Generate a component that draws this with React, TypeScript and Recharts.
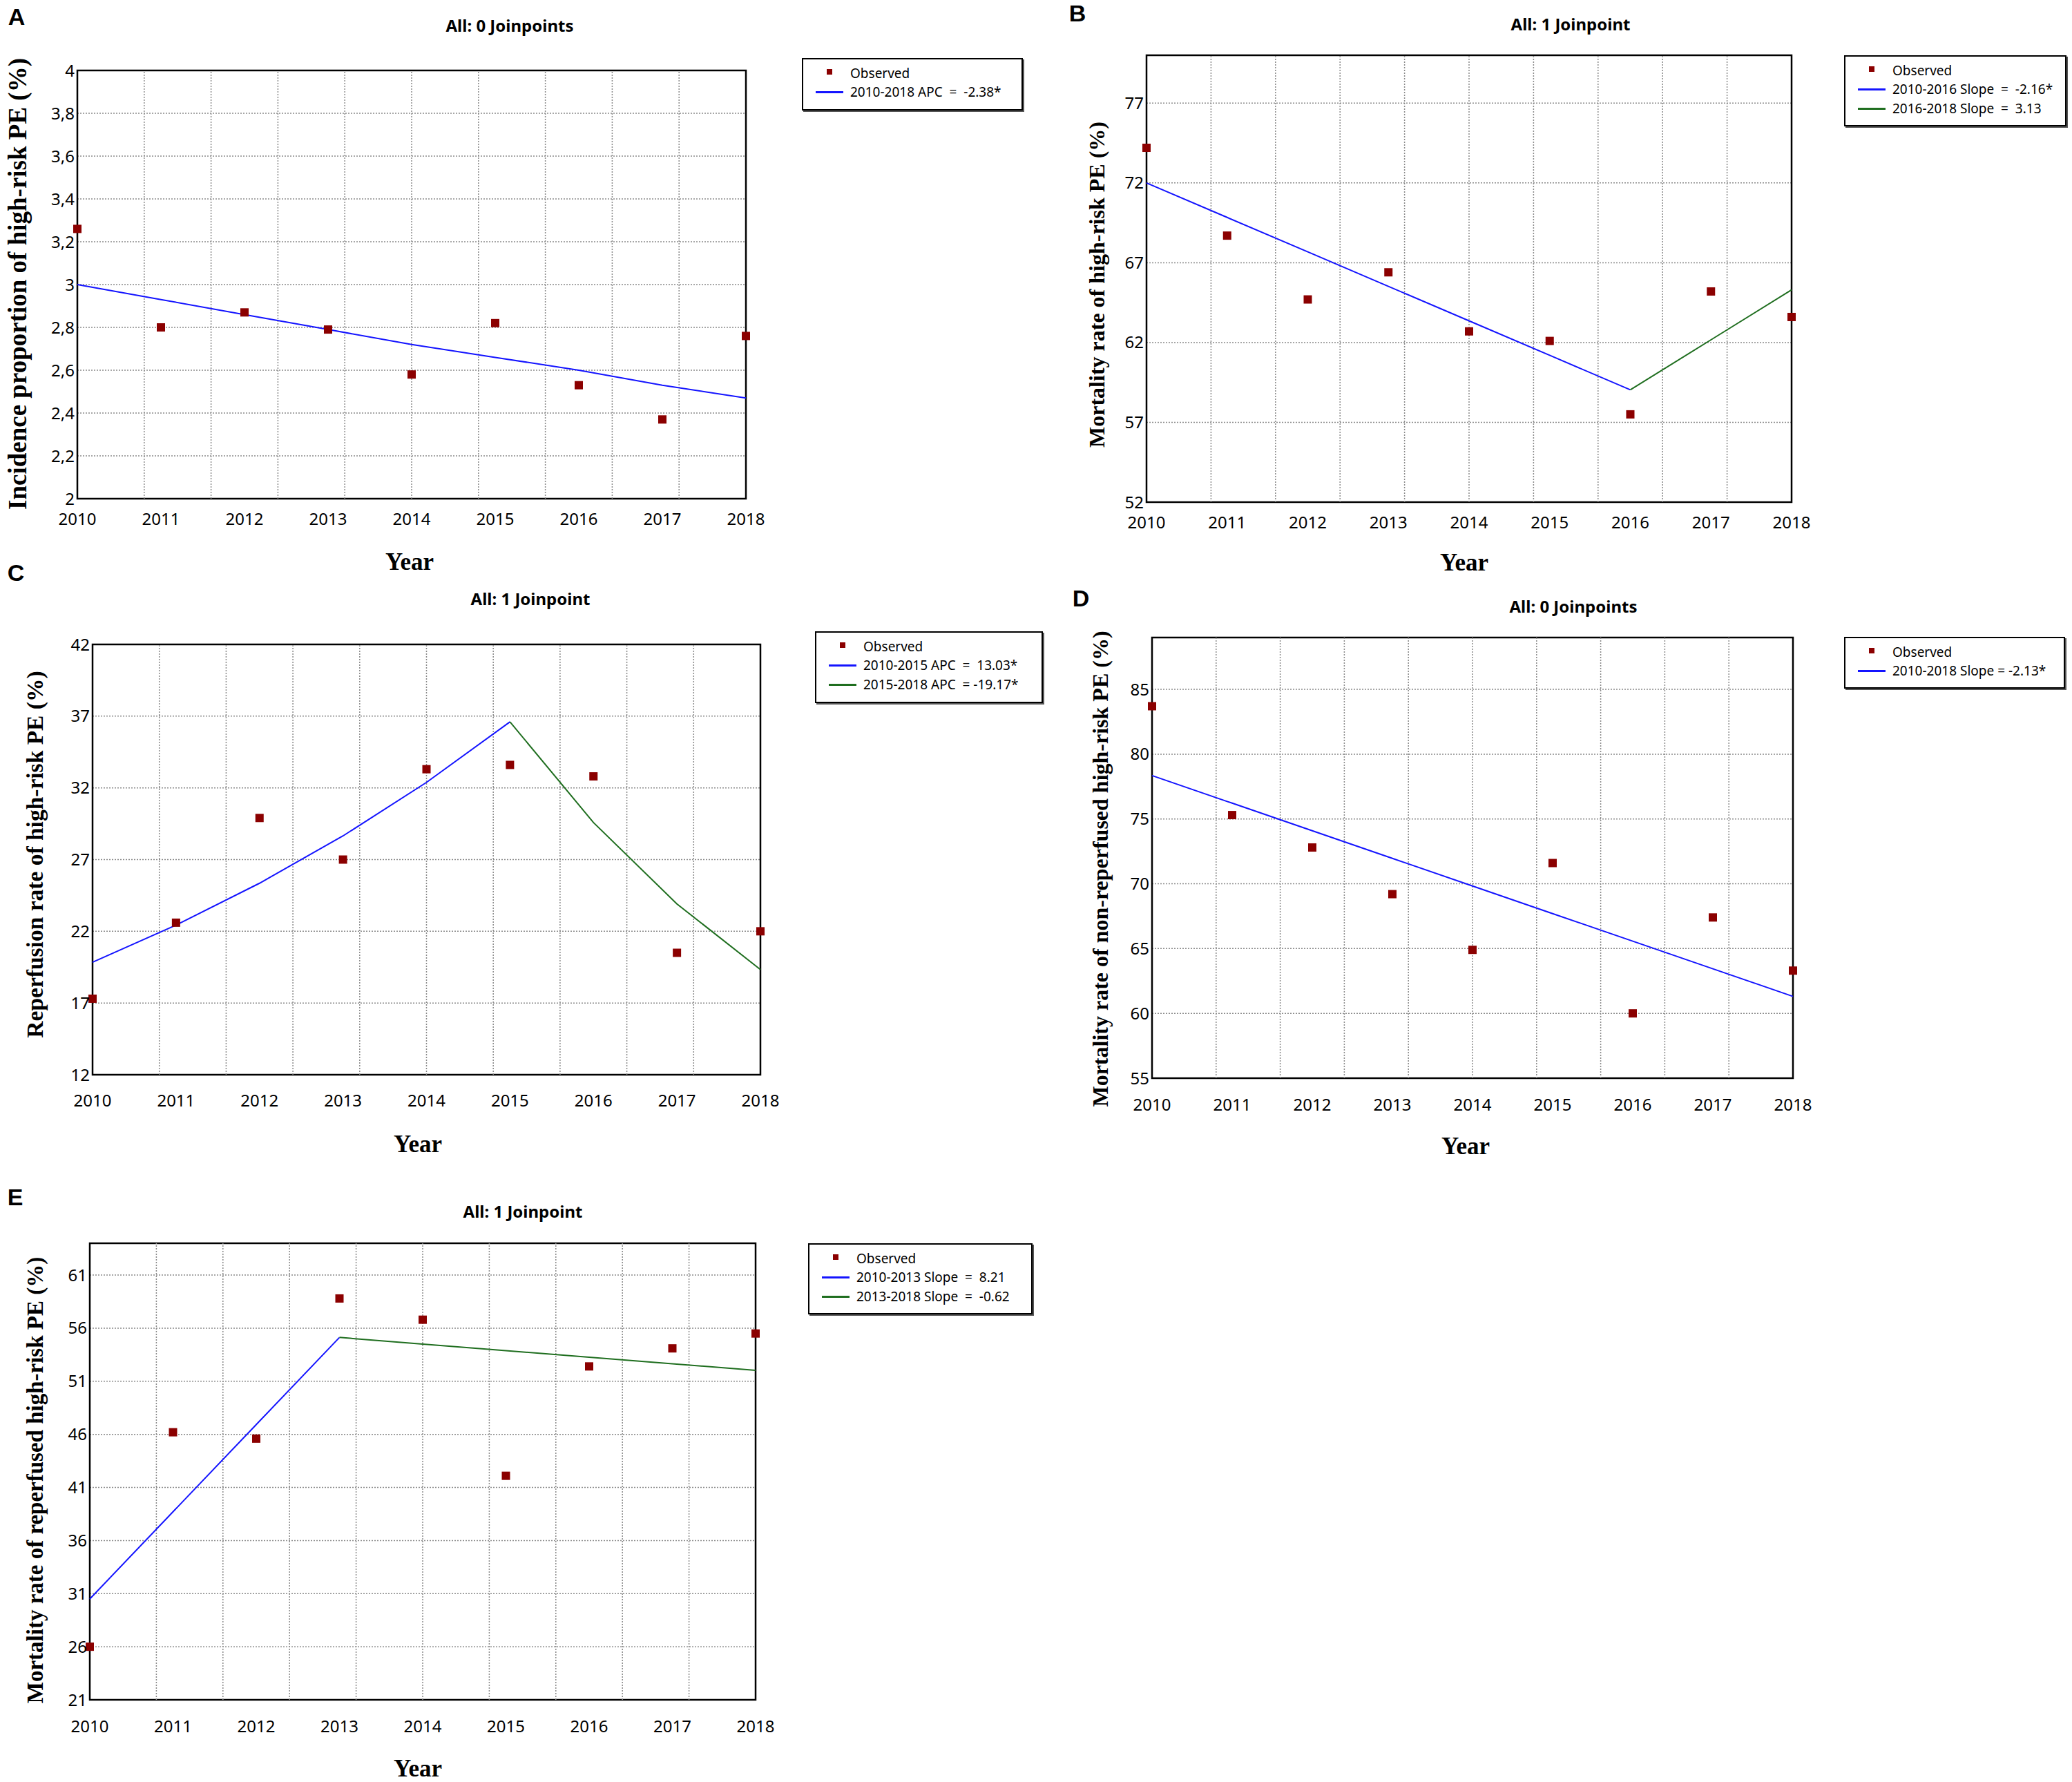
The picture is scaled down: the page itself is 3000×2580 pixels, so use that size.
import React from "react";
import {
  CartesianGrid,
  ComposedChart,
  Line,
  ReferenceArea,
  ReferenceLine,
  Scatter,
  XAxis,
  YAxis,
} from "recharts";

// shared x categories
const years = [2010, 2011, 2012, 2013, 2014, 2015, 2016, 2017, 2018];
// joinpoint software draws 10 vertical divisions over 2010-2018
const gridYears = [2010.8, 2011.6, 2012.4, 2013.2, 2014, 2014.8, 2015.6, 2016.4, 2017.2];

// A: incidence proportion
const aTicks = [2, 2.2, 2.4, 2.6, 2.8, 3, 3.2, 3.4, 3.6, 3.8, 4];
const aObserved = [3.26, 2.8, 2.87, 2.79, 2.58, 2.82, 2.53, 2.37, 2.76];
const aFit = [3.0, 2.93, 2.86, 2.79, 2.72, 2.66, 2.6, 2.53, 2.47];

// B: mortality rate
const bTicks = [52, 57, 62, 67, 72, 77];
const bObserved = [74.2, 68.7, 64.7, 66.4, 62.7, 62.1, 57.5, 65.2, 63.6];
const bFit1 = [72.0, 69.84, 67.68, 65.52, 63.36, 61.2, 59.04, null, null];
const bFit2 = [null, null, null, null, null, null, 59.04, 62.17, 65.3];

// C: reperfusion rate
const cTicks = [12, 17, 22, 27, 32, 37, 42];
const cObserved = [17.3, 22.6, 29.9, 27.0, 33.3, 33.6, 32.8, 20.5, 22.0];
const cFit1 = [19.84, 22.43, 25.35, 28.65, 32.38, 36.6, null, null, null];
const cFit2 = [null, null, null, null, null, 36.6, 29.58, 23.91, 19.33];

// D: mortality of non-reperfused
const dTicks = [55, 60, 65, 70, 75, 80, 85];
const dObserved = [83.7, 75.3, 72.8, 69.2, 64.9, 71.6, 60.0, 67.4, 63.3];
const dFit = [78.35, 76.22, 74.09, 71.96, 69.83, 67.7, 65.57, 63.44, 61.31];

// E: mortality of reperfused
const eTicks = [21, 26, 31, 36, 41, 46, 51, 56, 61];
const eObserved = [26.0, 46.2, 45.6, 58.8, 56.8, 42.1, 52.4, 54.1, 55.5];
const eFit1 = [30.5, 38.71, 46.92, 55.13, null, null, null, null, null];
const eFit2 = [null, null, null, 55.13, 54.51, 53.89, 53.27, 52.65, 52.03];

const RED = "#8b0000";
const BLUE = "#1414ff";
const GREEN = "#1f6e1f";
const SANS = "'Noto Sans', 'Open Sans', sans-serif";
const SERIF = "'Liberation Serif', 'DejaVu Serif', serif";

const panels = [
  {
    letter: "A", letterPos: [24, 24],
    title: "All: 0 Joinpoints", titlePos: [738, 37],
    ylabel: "Incidence proportion of high-risk PE (%)", ylabelPos: [25, 411], ylabelSize: 37,
    yearPos: [593, 813],
    plot: { l: 112, t: 102, w: 968, h: 620 }, tickGap: 21,
    domain: [2, 4], ticks: aTicks, comma: true,
    observed: aObserved, fit1: aFit, fit2: null,
    legend: { l: 1161, t: 84, w: 320, h: 76 },
    labels: ["2010-2018 APC  =  -2.38*"],
  },
  {
    letter: "B", letterPos: [1560, 19],
    title: "All: 1 Joinpoint", titlePos: [2274, 35],
    ylabel: "Mortality rate of high-risk PE (%)", ylabelPos: [1588, 412], ylabelSize: 32,
    yearPos: [2120, 814],
    plot: { l: 1660, t: 80, w: 934, h: 647 }, tickGap: 21,
    domain: [52, 80], ticks: bTicks, comma: false,
    observed: bObserved, fit1: bFit1, fit2: bFit2,
    legend: { l: 2670, t: 80, w: 322, h: 103 },
    labels: ["2010-2016 Slope  =  -2.16*", "2016-2018 Slope  =  3.13"],
  },
  {
    letter: "C", letterPos: [23, 829],
    title: "All: 1 Joinpoint", titlePos: [768, 867],
    ylabel: "Reperfusion rate of high-risk PE (%)", ylabelPos: [51, 1237], ylabelSize: 33.5,
    yearPos: [605, 1656],
    plot: { l: 134, t: 933, w: 967, h: 623 }, tickGap: 29,
    domain: [12, 42], ticks: cTicks, comma: false,
    observed: cObserved, fit1: cFit1, fit2: cFit2,
    legend: { l: 1180, t: 914, w: 330, h: 104 },
    labels: ["2010-2015 APC  =  13.03*", "2015-2018 APC  = -19.17*"],
  },
  {
    letter: "D", letterPos: [1565, 866],
    title: "All: 0 Joinpoints", titlePos: [2278, 878],
    ylabel: "Mortality rate of non-reperfused high-risk PE (%)", ylabelPos: [1593, 1258], ylabelSize: 32,
    yearPos: [2122, 1659],
    plot: { l: 1668, t: 923, w: 928, h: 638 }, tickGap: 30,
    domain: [55, 89], ticks: dTicks, comma: false,
    observed: dObserved, fit1: dFit, fit2: null,
    legend: { l: 2670, t: 922, w: 320, h: 75 },
    labels: ["2010-2018 Slope = -2.13*"],
  },
  {
    letter: "E", letterPos: [22, 1733],
    title: "All: 1 Joinpoint", titlePos: [757, 1754],
    ylabel: "Mortality rate of reperfused high-risk PE (%)", ylabelPos: [51, 2143], ylabelSize: 33,
    yearPos: [605, 2560],
    plot: { l: 130, t: 1800, w: 964, h: 661 }, tickGap: 30,
    domain: [21, 64], ticks: eTicks, comma: false,
    observed: eObserved, fit1: eFit1, fit2: eFit2,
    legend: { l: 1170, t: 1800, w: 325, h: 103 },
    labels: ["2010-2013 Slope  =  8.21", "2013-2018 Slope  =  -0.62"],
  },
];

const SquareMarker = (props: any) => {
  const { cx, cy } = props;
  if (cx == null || cy == null) return null;
  return <rect x={cx - 6} y={cy - 6} width={12} height={12} fill={RED} />;
};

const YW = 70;
const XH = 70;
const MT = 24;
const MR = 50;

function Panel({ p }: { p: any }) {
  const rows = years.map((year, i) => ({
    year,
    obs: p.observed[i],
    fit1: p.fit1[i],
    fit2: p.fit2 ? p.fit2[i] : null,
  }));
  const width = p.plot.w + YW + MR;
  const height = p.plot.h + MT + XH;
  const lineColors = [BLUE, GREEN];

  const center = (pos: number[]): React.CSSProperties => ({
    position: "absolute",
    left: pos[0],
    top: pos[1],
    transform: "translate(-50%, -50%)",
    whiteSpace: "nowrap",
    lineHeight: 1,
  });

  return (
    <>
      <div style={{ ...center(p.letterPos), fontFamily: "'Liberation Sans', Arial, sans-serif", fontWeight: 700, fontSize: 34 }}>
        {p.letter}
      </div>
      <div style={{ ...center(p.titlePos), fontFamily: SANS, fontWeight: 700, fontSize: 24 }}>{p.title}</div>
      <div
        style={{
          ...center(p.ylabelPos),
          transform: "translate(-50%, -50%) rotate(-90deg)",
          fontFamily: SERIF,
          fontWeight: 700,
          fontSize: p.ylabelSize,
        }}
      >
        {p.ylabel}
      </div>
      <div style={{ ...center(p.yearPos), fontFamily: SERIF, fontWeight: 700, fontSize: 35 }}>Year</div>

      <div style={{ position: "absolute", left: p.plot.l - YW, top: p.plot.t - MT }}>
        <ComposedChart width={width} height={height} data={rows} margin={{ top: MT, right: MR, left: 0, bottom: 0 }}>
          <CartesianGrid vertical={false} stroke="#8a8a8a" strokeDasharray="2 2" strokeWidth={1.5} />
          {gridYears.map((g) => (
            <ReferenceLine key={g} x={g} stroke="#8a8a8a" strokeDasharray="2 2" strokeWidth={1.5} />
          ))}
          <XAxis
            dataKey="year"
            type="number"
            domain={[2010, 2018]}
            ticks={years}
            interval={0}
            height={XH}
            axisLine={false}
            tickLine={false}
            tickSize={0}
            tickMargin={p.tickGap}
            tick={{ fontSize: 24, fill: "#000", fontFamily: SANS }}
          />
          <YAxis
            type="number"
            domain={p.domain}
            ticks={p.ticks}
            interval={0}
            width={YW}
            axisLine={false}
            tickLine={false}
            tickSize={0}
            tickMargin={4}
            tickFormatter={(v: number) => (p.comma ? String(v).replace(".", ",") : String(v))}
            tick={{ fontSize: 24, fill: "#000", fontFamily: SANS }}
          />
          <ReferenceArea
            x1={2010}
            x2={2018}
            y1={p.domain[0]}
            y2={p.domain[1]}
            fill="none"
            fillOpacity={0}
            stroke="#000"
            strokeWidth={2.5}
          />
          <Line type="linear" dataKey="fit1" stroke={BLUE} strokeWidth={2} dot={false} isAnimationActive={false} />
          {p.fit2 && (
            <Line type="linear" dataKey="fit2" stroke={GREEN} strokeWidth={2} dot={false} isAnimationActive={false} />
          )}
          <Scatter dataKey="obs" shape={SquareMarker} isAnimationActive={false} />
        </ComposedChart>
      </div>

      <div
        style={{
          position: "absolute",
          left: p.legend.l,
          top: p.legend.t,
          width: p.legend.w,
          height: p.legend.h,
          boxSizing: "border-box",
          border: "2px solid #000",
          boxShadow: "2px 2px 0 #555",
          background: "#fff",
          fontFamily: SANS,
          fontSize: 19,
        }}
      >
        <div style={{ position: "absolute", left: 34, top: 14, width: 8, height: 8, background: RED }} />
        <div style={{ position: "absolute", left: 68, top: 20, transform: "translateY(-50%)", whiteSpace: "pre", lineHeight: 1 }}>
          Observed
        </div>
        {p.labels.map((label: string, i: number) => (
          <React.Fragment key={label}>
            <div
              style={{
                position: "absolute",
                left: 18,
                top: 46 + i * 28,
                width: 40,
                height: 3,
                background: lineColors[i],
              }}
            />
            <div
              style={{
                position: "absolute",
                left: 68,
                top: 47 + i * 28,
                transform: "translateY(-50%)",
                whiteSpace: "pre",
                lineHeight: 1,
              }}
            >
              {label}
            </div>
          </React.Fragment>
        ))}
      </div>
    </>
  );
}

export default function App() {
  return (
    <div style={{ position: "absolute", left: 0, top: 0, width: 3000, height: 2580, background: "#fff", overflow: "hidden" }}>
      {panels.map((p) => (
        <Panel key={p.letter} p={p} />
      ))}
    </div>
  );
}
